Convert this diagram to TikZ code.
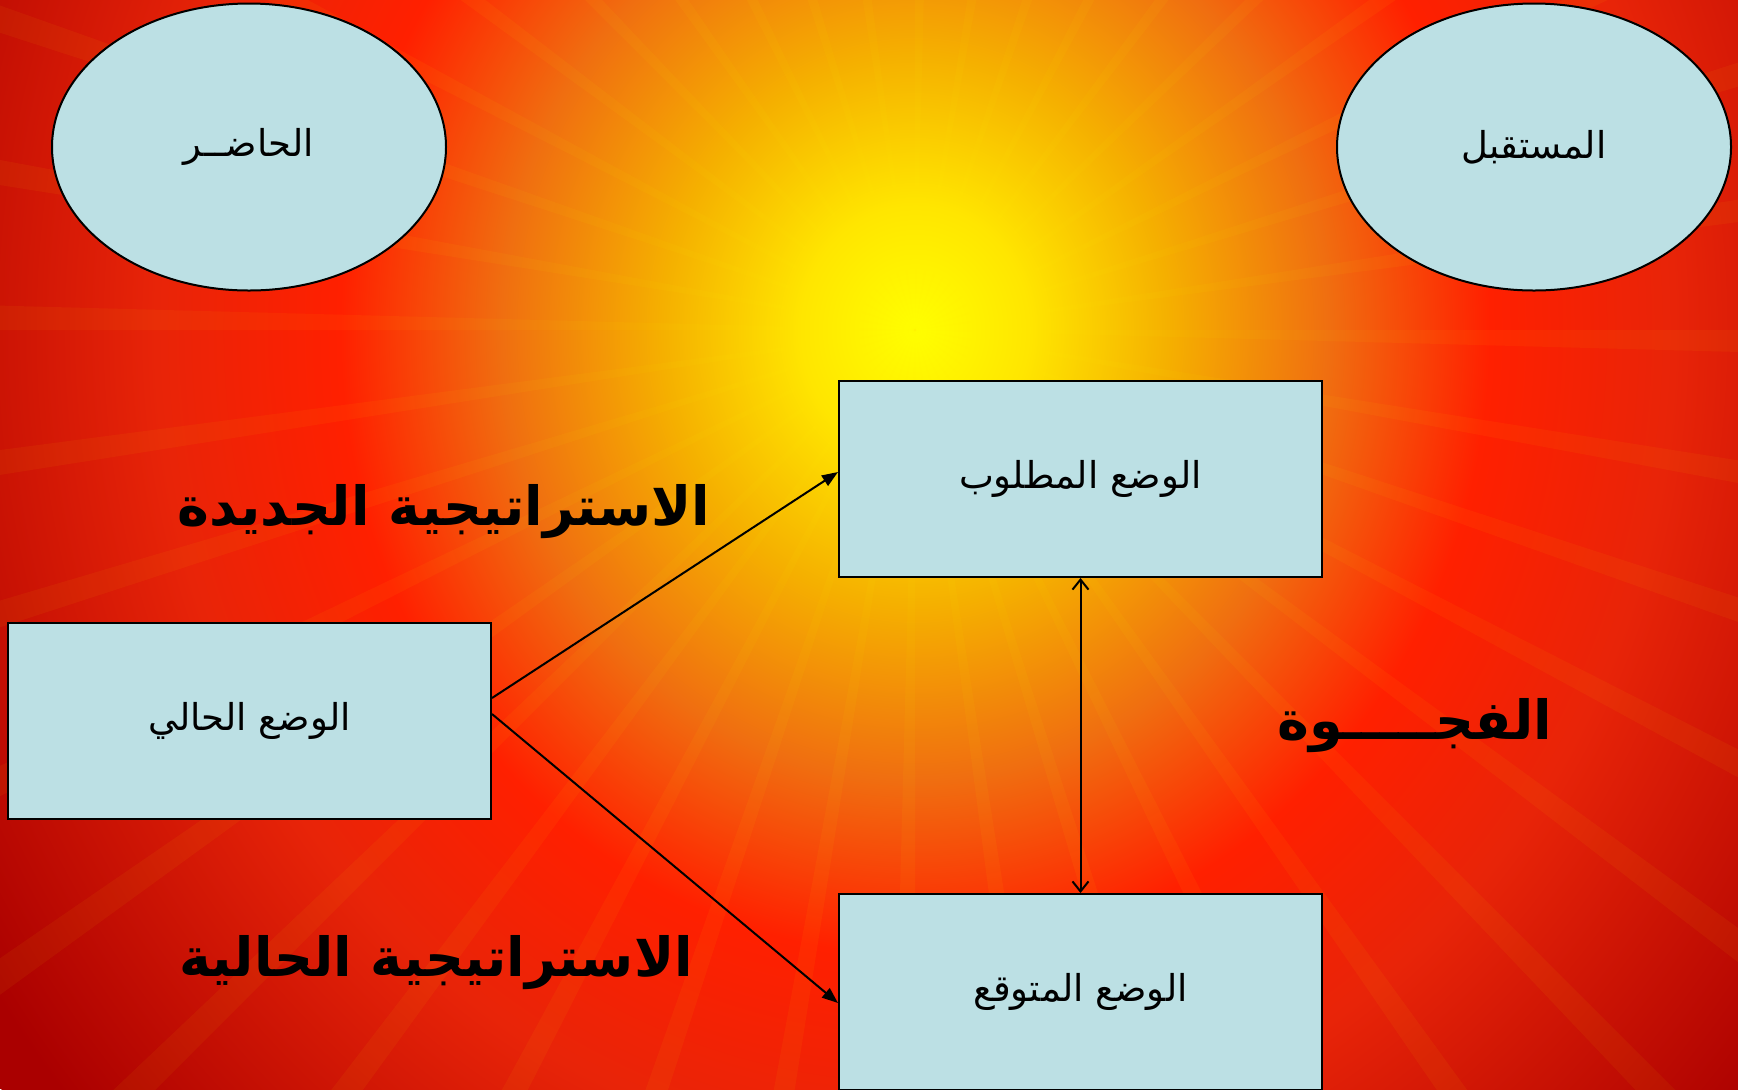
\documentclass[tikz,border=0pt]{standalone}
\usepackage{fontspec}
\newfontfamily\arabicfont[Script=Arabic]{DejaVu Sans}
\TeXXeTstate=1
\usetikzlibrary{shapes.geometric,arrows.meta}
\definecolor{boxfill}{RGB}{188,224,228}
\definecolor{burstamber}{RGB}{245,176,0}
\definecolor{burstorange}{RGB}{240,110,16}
\definecolor{burstred}{RGB}{232,36,8}
\definecolor{burstdark}{RGB}{170,0,0}
\pgfdeclareradialshading{burst}{\pgfpoint{0bp}{0bp}}{%
  color(0bp)=(yellow); color(2.5bp)=(yellow!80!orange);
  color(5.5bp)=(burstamber); color(9bp)=(burstorange);
  color(12.5bp)=(orange!25!red); color(16.5bp)=(burstred);
  color(24bp)=(burstdark); color(50bp)=(burstdark)}
\tikzset{
  stage/.style={draw,line width=1pt,fill=boxfill,minimum width=241.5pt,minimum height=98pt,inner sep=0pt,font=\arabicfont\fontsize{18.5}{22}\selectfont},
  era/.style={ellipse,draw,line width=1pt,fill=boxfill,minimum width=197pt,minimum height=143.5pt,inner sep=0pt,font=\arabicfont\fontsize{18.5}{22}\selectfont},
  title/.style={font=\arabicfont\bfseries\fontsize{27}{32}\selectfont,inner sep=0pt}
}
\begin{document}
\begin{tikzpicture}[x=0.5pt,y=-0.5pt]
    \useasboundingbox (0,0) rectangle (1738,1089);
    \clip (0,0) rectangle (1738,1089);
    \fill[burstdark] (0,0) rectangle (1738,1089);
    \shade[shading=burst] (915,330) ellipse (1150 and 1250);
    \foreach \a in {0,9,...,351}
        \fill[yellow,opacity=0.05] (915,330) -- ++(\a:1500) -- ++(\a+90:40) -- cycle;
    % the two times
    \node[era] (now) at (249,147) {\beginR الحاضــر\endR};
    \node[era] (later) at (1534,147) {\beginR المستقبل\endR};
    % the three states
    \node[stage] (want) at (1080.5,479) {\beginR الوضع المطلوب\endR};
    \node[stage] (cur) at (249.5,721) {\beginR الوضع الحالي\endR};
    \node[stage] (exp) at (1080.5,992) {\beginR الوضع المتوقع\endR};
    \draw[line width=1pt,-{Triangle[length=8pt,width=6pt]}] ([yshift=11.5pt]cur.east) -- ([yshift=3.5pt]want.west);
    \draw[line width=1pt,-{Triangle[length=8pt,width=6pt]}] ([yshift=3.5pt]cur.east) -- ([yshift=-5.5pt]exp.west);
    \draw[line width=1pt,{Straight Barb[length=5pt,width=8pt]}-{Straight Barb[length=5pt,width=8pt]}] (want.south) -- (exp.north);
    \node[title] (newway) at (444,512) {\beginR الاستراتيجية الجديدة\endR};
    \node[title] (oldway) at (436,963) {\beginR الاستراتيجية الحالية\endR};
    \node[title] (gap) at (1415,726) {\beginR الفجـــــوة\endR};
\end{tikzpicture}
\end{document}
